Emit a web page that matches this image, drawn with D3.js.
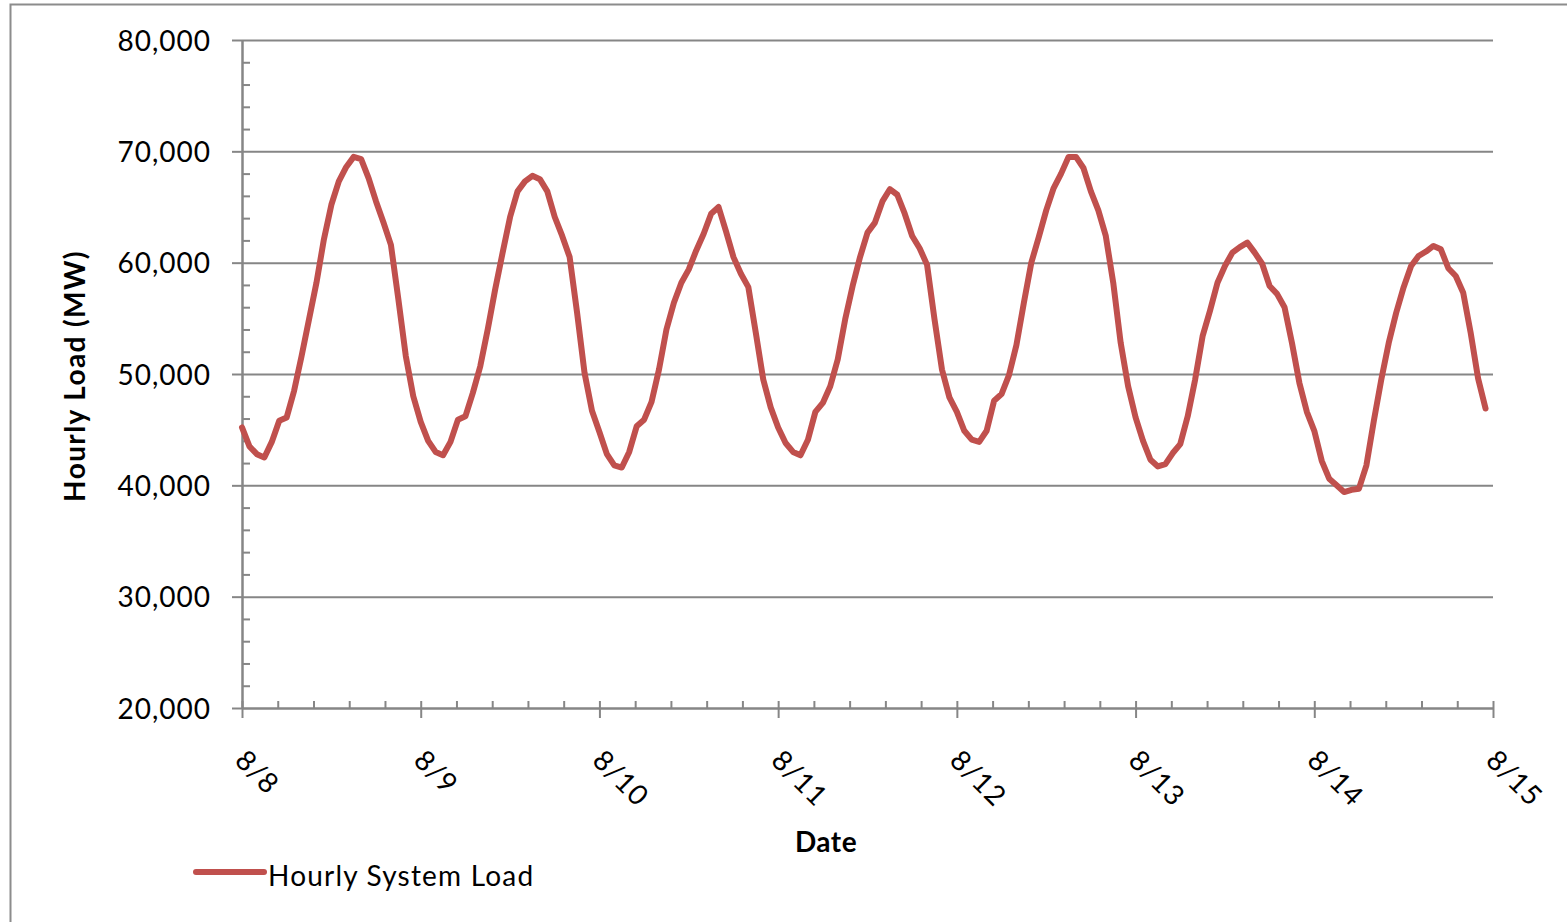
<!DOCTYPE html>
<html><head><meta charset="utf-8">
<script src="https://cdn.jsdelivr.net/npm/d3@7"></script>
<style>
body{margin:0;background:#fff}
text{font-family:Lato,"Open Sans",sans-serif;fill:#000}
</style>
</head><body>
<svg id="c" width="1567" height="922"></svg>
<script>
// ---- data ----
const dayLabels = ["8/8","8/9","8/10","8/11","8/12","8/13","8/14","8/15"];
const yTicks = [20000,30000,40000,50000,60000,70000,80000];
const seriesName = "Hourly System Load";
const load_0808 = [45200,43500,42800,42500,43900,45800,46100,48500,51600,54900,58200,62100,65200,67300,68600,69500,69300,67600,65500,63600,61600,56700,51600,48000];
const load_0809 = [45700,44000,43000,42700,43900,45900,46200,48300,50700,54000,57600,60900,64100,66400,67300,67800,67500,66400,64100,62400,60500,55500,50100,46700];
const load_0810 = [44800,42800,41800,41600,43000,45300,45900,47500,50400,54000,56400,58200,59400,61100,62600,64400,65000,62800,60500,59000,57800,53700,49500,47000];
const load_0811 = [45200,43800,43000,42700,44100,46600,47400,48900,51300,54900,57900,60500,62700,63600,65500,66600,66100,64400,62400,61300,59800,54900,50400,47900];
const load_0812 = [46600,44900,44100,43900,44900,47600,48200,49900,52600,56400,60000,62300,64700,66700,68000,69500,69500,68500,66400,64700,62400,58200,52800,48900];
const load_0813 = [46100,44000,42300,41700,41900,42900,43700,46200,49500,53400,55700,58200,59700,60900,61400,61800,60900,59900,57900,57200,56000,52800,49200,46600];
const load_0814 = [44900,42200,40600,40000,39400,39600,39700,41800,45800,49500,52800,55500,57800,59700,60600,61000,61500,61200,59500,58800,57300,53700,49600,46900];

const load = [].concat(load_0808,load_0809,load_0810,load_0811,load_0812,load_0813,load_0814);
const hoursPerDay = 24;

// ---- layout ----
const svg = d3.select("#c");
const L = 242, R = 1493, T = 40, B = 708;
const gray = "#868686";
const x = d3.scaleLinear().domain([0, dayLabels.length - 1]).range([L, R]);
const y = d3.scaleLinear().domain([20000, 80000]).range([B, T]);
const xh = h => x(h / hoursPerDay);

// chart frame
svg.append("rect").attr("x",10.5).attr("y",4.5).attr("width",1700).attr("height",1100)
  .attr("fill","none").attr("stroke","#8c8c8c").attr("stroke-width",2);

function styleAxis(g){
  g.selectAll("line").attr("stroke",gray).attr("stroke-width",2);
  g.selectAll("path").attr("stroke",gray).attr("stroke-width",2.5);
}

// gridlines
const grid = svg.append("g").attr("transform",`translate(${L},0)`)
  .call(d3.axisLeft(y).tickValues(yTicks.slice(1)).tickSize(-(R-L)).tickFormat(""));
grid.select(".domain").remove();
styleAxis(grid);

// y minor ticks (inside)
const yMinor = d3.range(20000, 80001, 2000).filter(v => v % 10000 !== 0);
const gyMin = svg.append("g").attr("transform",`translate(${L},0)`)
  .call(d3.axisLeft(y).tickValues(yMinor).tickSize(-8).tickSizeOuter(0).tickFormat(""));
gyMin.select(".domain").remove();
styleAxis(gyMin);

// y major axis
const gy = svg.append("g").attr("transform",`translate(${L},0)`)
  .call(d3.axisLeft(y).tickValues(yTicks).tickSize(10).tickSizeOuter(0).tickPadding(21).tickFormat(d3.format(",")));
styleAxis(gy);
gy.selectAll("text").attr("font-size",28).attr("font-family","Lato").attr("fill","#000")
  .attr("dy","0.36em").attr("letter-spacing","1px");

// x minor ticks (inside)
const xMinor = d3.range(0, 7*5+1).map(i => i/5).filter(v => Math.abs(v - Math.round(v)) > 1e-6);
const gxMin = svg.append("g").attr("transform",`translate(0,${B})`)
  .call(d3.axisBottom(x).tickValues(xMinor).tickSize(-7).tickSizeOuter(0).tickFormat(""));
gxMin.select(".domain").remove();
styleAxis(gxMin);

// x major ticks
const dayIdx = d3.range(dayLabels.length);
const gxUp = svg.append("g").attr("transform",`translate(0,${B})`)
  .call(d3.axisBottom(x).tickValues(dayIdx).tickSize(-7).tickSizeOuter(0).tickFormat(""));
gxUp.select(".domain").remove();
styleAxis(gxUp);
const gx = svg.append("g").attr("transform",`translate(0,${B})`)
  .call(d3.axisBottom(x).tickValues(dayIdx).tickSize(10).tickSizeOuter(0).tickFormat(i => dayLabels[i]));
styleAxis(gx);
gx.selectAll("text").attr("font-size",28).attr("font-family","Lato").attr("fill","#000")
  .attr("text-anchor","start").attr("x",0).attr("y",0).attr("dy",0).attr("letter-spacing","1px")
  .attr("transform","translate(-9,54) rotate(45)");

// data line
svg.append("path").datum(load)
  .attr("fill","none").attr("stroke","#C0504D").attr("stroke-width",6)
  .attr("stroke-linejoin","round").attr("stroke-linecap","round")
  .attr("d", d3.line().x((d,i) => xh(i)).y(d => y(d)));

// axis titles
svg.append("text").attr("x",826).attr("y",852).attr("text-anchor","middle")
  .attr("font-size",28).attr("font-weight","bold").attr("letter-spacing","0.5px").text("Date");
svg.append("text").attr("transform","translate(85,376) rotate(-90)").attr("text-anchor","middle")
  .attr("font-size",28).attr("font-weight","bold").attr("letter-spacing","1.4px").text("Hourly Load (MW)");

// legend
svg.append("line").attr("x1",196).attr("x2",264).attr("y1",872).attr("y2",872)
  .attr("stroke","#C0504D").attr("stroke-width",6).attr("stroke-linecap","round");
svg.append("text").attr("x",268).attr("y",886).attr("font-size",28).attr("letter-spacing","1.2px").text(seriesName);
</script>
</body></html>
